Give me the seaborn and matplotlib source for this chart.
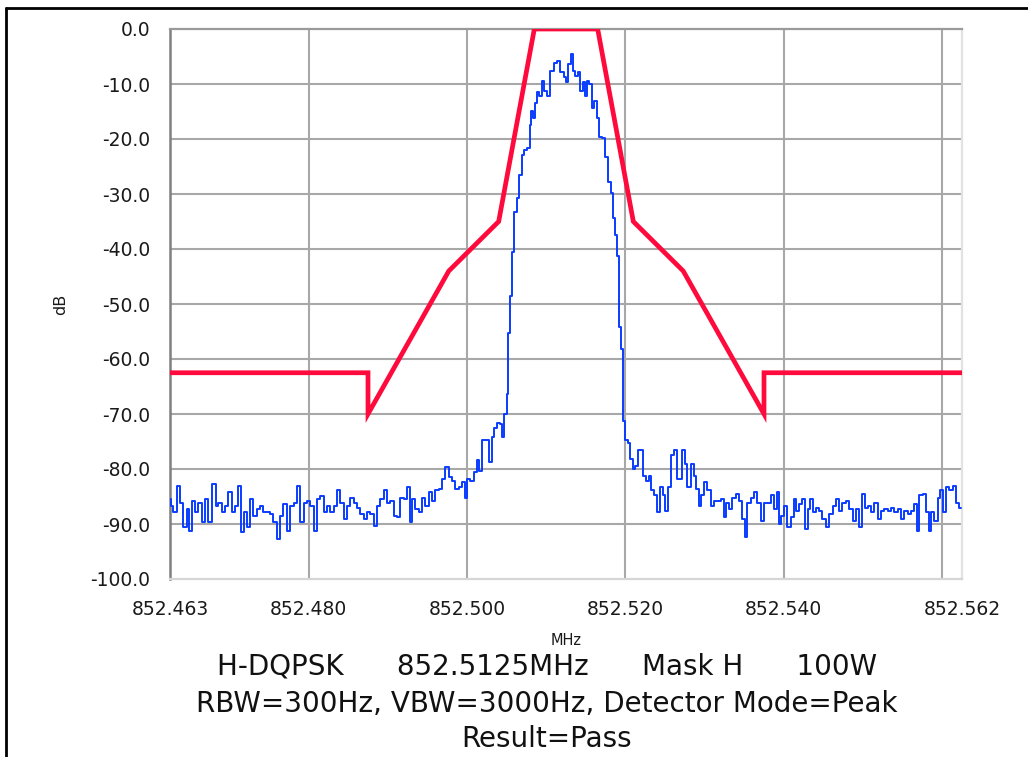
import numpy as np
import pandas as pd
import matplotlib
matplotlib.use("Agg")
import matplotlib.pyplot as plt
from matplotlib.lines import Line2D
import seaborn as sns

# ---------------- data ----------------
span_start_mhz = 852.4625
center_mhz = 852.5125

trace_offset_khz = [
    0.0, 0.21, 0.63, 1.05, 1.48, 1.90, 2.31, 2.53, 2.95, 3.38, 3.79, 4.21, 4.64, 5.06, 5.60, 5.90,
    6.32, 6.74, 7.17, 7.59, 8.00, 8.43, 8.85, 9.14, 9.48, 9.90, 10.33, 10.75, 11.16, 11.59, 12.01,
    12.43, 12.86, 13.27, 13.69, 14.12, 14.54, 14.96, 15.39, 15.80, 16.22, 16.65, 17.07, 17.48, 17.91,
    18.33, 18.75, 19.18, 19.60, 20.01, 20.44, 20.86, 21.28, 21.71, 22.12, 22.54, 22.97, 23.39, 23.80,
    24.23, 24.65, 25.07, 25.50, 25.92, 26.33, 26.76, 27.18, 27.60, 28.03, 28.44, 28.86, 29.29, 29.71,
    30.13, 30.43, 30.76, 31.19, 31.61, 32.02, 32.45, 32.87, 33.29, 33.72, 34.13, 34.55, 34.98, 35.40,
    35.82, 36.24, 36.66, 37.08, 37.38, 37.71, 38.14, 38.56, 38.85, 39.19, 39.61, 40.11, 40.45, 40.75,
    41.09, 41.50, 41.72, 42.06, 42.35, 42.64, 42.77, 42.98, 43.32, 43.61, 43.91, 44.25, 44.59, 44.88,
    45.30, 45.51, 45.73, 45.93, 46.14, 46.43, 46.78, 47.12, 47.41, 47.82, 48.25, 48.67, 49.09, 49.52,
    49.94,
    50.15, 50.48, 50.78, 50.98, 51.41, 51.62, 51.92, 52.25, 52.46, 52.75, 53.10, 53.39, 53.73, 54.02,
    54.36, 54.78, 55.08, 55.41, 55.84, 56.04, 56.26, 56.55, 56.80, 57.10, 57.31, 57.61, 57.94, 58.24,
    58.57, 58.91, 59.20, 59.63, 59.92, 60.26, 60.59, 60.90, 61.31, 61.73, 62.03, 62.36, 62.70, 63.00,
    63.43, 63.84, 64.13, 64.47, 64.82, 65.11, 65.52, 65.95, 66.28, 66.58, 66.91, 67.22, 67.63, 68.05,
    68.48, 68.90, 69.32, 69.75, 70.04, 70.38,
    70.80, 71.21, 71.64, 72.06, 72.48, 72.69, 73.11, 73.54, 73.96, 74.37, 74.80, 75.22, 75.64, 76.07,
    76.49, 76.70, 77.03, 77.33, 77.75, 78.17, 78.60, 78.89, 79.23, 79.64, 80.06, 80.40, 80.69, 81.00,
    81.33, 81.76, 82.17, 82.59, 83.02, 83.44, 83.86, 84.28, 84.70, 85.12, 85.55, 85.97, 86.38, 86.81,
    87.23, 87.57, 87.86, 88.28, 88.71, 89.13, 89.54, 89.97, 90.39, 90.81, 91.24, 91.65, 92.07, 92.50,
    92.92, 93.34, 93.77, 94.18, 94.40, 94.82, 95.23, 95.66, 95.99, 96.29, 96.71, 97.13, 97.43, 97.76,
    98.19, 98.61, 99.02, 99.46, 99.87,
]

trace_level_db = [
    -85.5, -86.7, -87.9, -83.0, -86.1, -90.6, -87.3, -91.2, -85.8, -87.9,
    -86.1, -89.7, -85.5, -89.7, -82.7, -86.7, -86.1, -87.9, -86.7, -84.2,
    -87.9, -86.7, -83.0, -91.5, -87.9, -90.6, -85.5, -88.5, -87.3, -86.7,
    -87.9, -87.9, -88.2, -89.7, -92.7, -88.5, -86.4, -91.2, -86.7, -86.1,
    -83.0, -89.7, -86.1, -85.8, -86.7, -91.2, -85.5, -84.9, -87.9, -86.7,
    -87.9, -86.7, -83.9, -86.1, -89.1, -86.7, -85.2, -86.1, -87.0, -88.2,
    -89.1, -87.9, -88.2, -90.3, -86.7, -85.5, -83.9, -86.1, -85.8, -88.5,
    -88.8, -85.2, -85.5,
    -83.3, -89.7, -85.5, -87.3, -87.9, -85.2, -86.7, -84.2, -85.8, -83.9,
    -83.6, -81.8, -79.7, -81.5, -82.1, -83.6, -83.3, -82.4, -85.2, -81.8,
    -82.1, -80.6, -78.4, -80.3, -74.7, -74.7, -78.8, -74.1, -72.5, -71.6,
    -71.9, -74.1, -70.0, -66.4, -55.3, -48.5, -40.6, -33.2, -30.7, -26.5,
    -22.9, -22.0, -21.7, -17.4, -14.9, -16.2, -13.4, -11.5, -12.2, -9.4,
    -11.2, -12.1, -7.6, -6.1, -5.8, -7.9, -8.8,
    -9.7, -6.4, -4.5, -7.6, -8.5, -7.9, -11.2, -9.7, -12.2, -9.4,
    -10.0, -14.3, -13.1, -16.2, -19.6, -19.9, -23.3, -27.9, -29.8, -34.4,
    -37.5, -41.2, -54.1, -58.1, -71.3, -74.7, -75.3, -78.1, -80.0, -79.4,
    -76.6, -76.6, -81.2, -82.1, -81.2, -83.9, -84.8, -87.9, -83.3, -84.8,
    -87.6, -83.3, -77.5, -76.6, -81.8, -81.8, -76.6, -79.1, -83.3, -79.1,
    -81.2, -83.6, -86.7, -84.8, -82.4, -83.9, -86.7, -85.8, -85.8, -85.5,
    -88.8, -86.1,
    -87.3, -85.2, -84.5, -85.8, -89.1, -92.4, -86.1, -85.2, -84.2, -86.1,
    -89.4, -86.1, -86.1, -84.8, -87.3, -84.2, -90.0, -88.5, -86.7, -90.6,
    -88.8, -85.5, -87.6, -86.4, -85.5, -90.9, -87.3, -85.5, -87.9, -87.0,
    -87.6, -89.1, -90.6, -88.2, -86.7, -85.5, -87.6, -86.1, -85.8, -87.3,
    -89.4, -87.3, -90.6, -84.5, -87.0, -86.7, -87.9, -86.1, -89.1, -87.6,
    -87.3, -87.6, -87.0, -87.9, -87.3, -89.1, -87.6, -88.2, -87.6, -86.4,
    -91.2, -84.8, -84.5, -87.9, -91.2, -87.9, -89.4, -85.2, -83.9, -87.9,
    -83.3, -83.9, -83.0, -86.1, -87.0,
]

# emission mask (frequency in MHz, limit in dB)
mask_freq_mhz = [852.4625, 852.4875, 852.4875, 852.4977, 852.5040, 852.5085,
                 852.5165, 852.5210, 852.5273, 852.5375, 852.5375, 852.5625]
mask_level_db = [-62.5, -62.5, -70.0, -44.0, -35.0, 0.0,
                 0.0, -35.0, -44.0, -70.0, -62.5, -62.5]

x_tick_values = [852.4625, 852.48, 852.50, 852.52, 852.54, 852.56, 852.5625]
x_tick_labels = ["852.463", "852.480", "852.500", "852.520", "852.540", "", "852.562"]
y_tick_values = list(range(-100, 1, 10))

title_lines = ["H-DQPSK      852.5125MHz      Mask H      100W",
               "RBW=300Hz, VBW=3000Hz, Detector Mode=Peak",
               "Result=Pass"]

# ---------------- plot ----------------
sns.set_theme(style="white")
plt.rcParams["font.family"] = ["DejaVu Sans"]

trace_df = pd.DataFrame({
    "freq": span_start_mhz + np.array(trace_offset_khz) / 1000.0,
    "level": trace_level_db,
})
mask_df = pd.DataFrame({"freq": mask_freq_mhz, "level": mask_level_db})

fig = plt.figure(figsize=(10.28, 7.57), dpi=100)
ax = fig.add_axes([170 / 1028, 1 - 579 / 757, (962 - 170) / 1028, (579 - 29) / 757])

sns.lineplot(data=trace_df, x="freq", y="level", ax=ax, color="#0a3cff",
             linewidth=1.4, estimator=None, sort=False, drawstyle="steps-mid", zorder=3)
sns.lineplot(data=mask_df, x="freq", y="level", ax=ax, color="#ff0a3c",
             linewidth=3.4, estimator=None, sort=False, zorder=4,
             solid_joinstyle="miter")

ax.set_xlim(852.4625, 852.5625)
ax.set_ylim(-100, 0)
ax.set_xticks(x_tick_values)
ax.set_xticklabels(x_tick_labels)
ax.set_yticks(y_tick_values)
ax.set_yticklabels([f"{v:.1f}" for v in y_tick_values])

ax.grid(True, color="#a8a8a8", linewidth=1.5)
ax.set_axisbelow(True)
xg = ax.get_xgridlines()
xg[0].set_visible(False)
xg[-1].set_visible(False)
yg = ax.get_ygridlines()
yg[0].set_visible(False)
yg[-1].set_visible(False)

ax.spines["left"].set_color("#808080")
ax.spines["left"].set_linewidth(1.8)
ax.spines["top"].set_color("#9a9a9a")
ax.spines["top"].set_linewidth(1.6)
ax.spines["bottom"].set_color("#d6d6d6")
ax.spines["bottom"].set_linewidth(1.6)
ax.spines["right"].set_color("#e2e2e2")
ax.spines["right"].set_linewidth(1.6)

ax.tick_params(axis="both", which="major", direction="out", length=6, width=1.3,
               color="#222222", labelcolor="#1a1a1a", labelsize=13.5)
ax.tick_params(axis="y", pad=8)
ax.tick_params(axis="x", pad=9)

ax.set_xlabel("MHz", fontsize=10.5, color="#1a1a1a", labelpad=10)
ax.set_ylabel("dB", fontsize=11.5, color="#1a1a1a", labelpad=16)

ys = [1 - 666 / 757, 1 - 704 / 757, 1 - 739 / 757]
for txt, yy in zip(title_lines, ys):
    fig.text(547 / 1028, yy, txt, ha="center", va="center", fontsize=20, color="#111111")

# figure frame (top and left edges)
fig.add_artist(Line2D([6 / 1028, 1.0], [1 - 8 / 757, 1 - 8 / 757],
                      transform=fig.transFigure, color="black", linewidth=2.0))
fig.add_artist(Line2D([6 / 1028, 6 / 1028], [0.0, 1 - 8 / 757],
                      transform=fig.transFigure, color="black", linewidth=2.0))

fig.savefig("out.png", dpi=100)
